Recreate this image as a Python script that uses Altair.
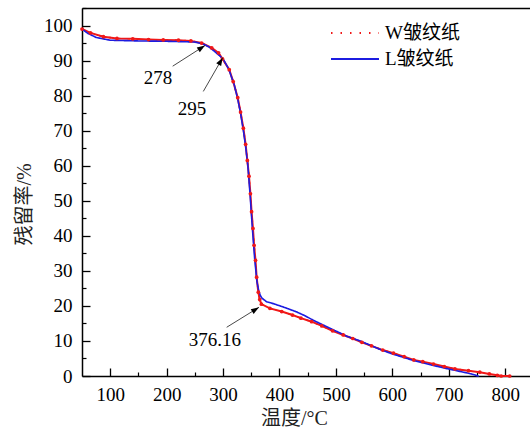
import math
import altair as alt
import pandas as pd

# ---- data ----
SERIES = ["W皱纹纸", "L皱纹纸"]

W_T = [50, 65, 88, 112, 140, 168, 194, 221, 243, 262, 280, 292, 299, 311, 318, 326,
       331, 336, 340, 343, 346, 348.5, 350.5, 353, 355, 357.5, 359.5, 362.5, 365, 368,
       383, 404, 423, 438, 457, 475, 494, 513, 530, 546, 563, 583, 602, 621, 638, 654,
       673, 692, 711, 735, 755, 772, 786, 793, 808]
W_V = [99.0, 97.9, 96.8, 96.3, 96.2, 96.0, 95.9, 95.8, 95.6, 95.0, 93.6, 92.2, 90.5,
       87.4, 84.0, 79.4, 75.3, 70.7, 66.1, 61.5, 57.0, 52.0, 46.9, 42.1, 37.3, 33.0,
       28.2, 23.9, 21.8, 20.5, 19.3, 18.4, 17.4, 16.5, 15.5, 14.3, 12.9, 11.7, 10.7,
       9.6, 8.6, 7.4, 6.5, 5.5, 4.6, 4.1, 3.4, 2.7, 2.0, 1.5, 1.1, 0.6, 0.2, 0.0, 0.0]

L_T = [50, 60, 75, 100, 150, 200, 250, 265, 275, 285, 293, 300, 310, 320, 326, 331,
       336, 340, 344, 348, 352, 356, 360, 363, 366, 369, 377, 390, 401, 415, 430, 445,
       460, 478, 495, 520, 543, 578, 600, 638, 670, 697, 720, 740, 752]
L_V = [99.0, 97.8, 96.6, 95.8, 95.6, 95.5, 95.3, 94.7, 93.9, 92.6, 91.5, 90.5, 87.6,
       83.0, 79.0, 75.0, 70.0, 65.5, 60.0, 51.5, 42.0, 33.5, 27.0, 24.5, 23.0, 22.2,
       21.2, 20.6, 20.0, 19.2, 18.3, 17.2, 15.9, 14.5, 13.2, 11.3, 10.0, 7.6, 6.3, 4.4,
       3.1, 2.1, 1.3, 0.6, 0.0]

ANN_LABEL = ["278", "295", "376.16"]
ANN_TX = [184.7, 245.0, 285.7]
ANN_TY = [85.0, 76.1, 10.4]
ARROW_X0 = [210.7, 265.0, 306.4]
ARROW_Y0 = [88.4, 81.2, 13.9]
ARROW_X1 = [268.0, 299.3, 363.7]
ARROW_Y1 = [94.3, 90.8, 19.6]

X_DOMAIN = [50, 844]
Y_DOMAIN = [0, 105]
X_MAJOR = list(range(100, 801, 100))
X_MINOR = list(range(150, 844, 100))
Y_MAJOR = list(range(0, 101, 10))
Y_MINOR = list(range(5, 106, 10))

# ---- style ----
W, H = 448, 368
RED = "#f01818"
BLUE = "#1c1ce0"
FONT_NUM = "Liberation Serif"
FONT_CJK = "Liberation Serif, Noto Sans CJK SC"
ARROW_PATH = "M0,0L0.7,2L-0.7,2Z"

df_w = pd.DataFrame({"T": W_T, "V": W_V, "s": SERIES[0]})
df_l = pd.DataFrame({"T": L_T, "V": L_V, "s": SERIES[1]})
df_all = pd.concat([df_w, df_l], ignore_index=True)

px_x = W / (X_DOMAIN[1] - X_DOMAIN[0])
px_y = H / (Y_DOMAIN[1] - Y_DOMAIN[0])
angles = []
for x0, y0, x1, y1 in zip(ARROW_X0, ARROW_Y0, ARROW_X1, ARROW_Y1):
    dx = (x1 - x0) * px_x
    dy = -(y1 - y0) * px_y
    angles.append(math.degrees(math.atan2(dx, -dy)) % 360)

df_arrow = pd.DataFrame({"x0": ARROW_X0, "y0": ARROW_Y0, "x1": ARROW_X1,
                         "y1": ARROW_Y1, "ang": angles})
df_text = pd.DataFrame({"tx": ANN_TX, "ty": ANN_TY, "label": ANN_LABEL})

xs = alt.Scale(domain=X_DOMAIN, nice=False, zero=False)
ys = alt.Scale(domain=Y_DOMAIN, nice=False, zero=False)

ax_x_main = alt.Axis(values=X_MAJOR, title="温度/°C", ticks=False, grid=False,
                     labelFont=FONT_NUM, labelFontSize=19, labelColor="black",
                     labelPadding=9, titleFont=FONT_CJK, titleFontSize=20,
                     titleFontWeight="normal", titleColor="#222", titlePadding=4,
                     titleX=212, domainColor="black", domainWidth=1.5,
                     labelFlush=False)
ax_y_main = alt.Axis(values=Y_MAJOR, title="残留率/%", ticks=False, grid=False,
                     labelFont=FONT_NUM, labelFontSize=19, labelColor="black",
                     labelPadding=10, titleFont=FONT_CJK, titleFontSize=20,
                     titleFontWeight="normal", titleColor="#222",
                     titleX=-58, titleY=196, titleAlign="center",
                     titleBaseline="middle", domainColor="black", domainWidth=1.5,
                     labelFlush=False)
ax_x_tick = alt.Axis(orient="top", offset=-H, values=X_MAJOR, labels=False,
                     domain=False, tickSize=8, tickWidth=1.3, tickColor="black",
                     title=None, grid=False)
ax_y_tick = alt.Axis(orient="right", offset=-W, values=Y_MAJOR, labels=False,
                     domain=False, tickSize=8, tickWidth=1.3, tickColor="black",
                     title=None, grid=False)
ax_x_minor = alt.Axis(orient="top", offset=-H, values=X_MINOR, labels=False,
                      domain=False, tickSize=4, tickWidth=1.2, tickColor="black",
                      title=None, grid=False)
ax_y_minor = alt.Axis(orient="right", offset=-W, values=Y_MINOR, labels=False,
                      domain=False, tickSize=4, tickWidth=1.2, tickColor="black",
                      title=None, grid=False)
ax_x_top = alt.Axis(orient="top", labels=False, ticks=False, domain=True,
                    domainColor="black", domainWidth=1.5, title=None, grid=False)

legend = alt.Legend(title=None, orient="none", legendX=248, legendY=13,
                    symbolType="stroke", symbolSize=2304, symbolStrokeWidth=2.0,
                    labelFont=FONT_CJK, labelFontSize=19, labelColor="black",
                    labelOffset=5, padding=0, rowPadding=2, clipHeight=24)

red_line = alt.Chart(df_w).mark_line(color=RED, strokeWidth=2).encode(
    x=alt.X("T:Q", scale=xs, axis=ax_x_main),
    y=alt.Y("V:Q", scale=ys, axis=ax_y_main),
)

both = alt.Chart(df_all).mark_line(strokeWidth=1.6, strokeCap="round").encode(
    x=alt.X("T:Q", scale=xs, axis=ax_x_tick),
    y=alt.Y("V:Q", scale=ys, axis=ax_y_tick),
    color=alt.Color("s:N", scale=alt.Scale(domain=SERIES, range=[RED, BLUE]),
                    legend=legend),
    strokeDash=alt.StrokeDash("s:N", scale=alt.Scale(domain=SERIES,
                              range=[[1.5, 8], [1, 0]]), legend=legend),
    order=alt.Order("T:Q"),
)

red_pts = alt.Chart(df_w).mark_circle(color=RED, size=14, opacity=1).encode(
    x=alt.X("T:Q", scale=xs, axis=ax_x_minor),
    y=alt.Y("V:Q", scale=ys, axis=ax_y_minor),
)

arrows = alt.Chart(df_arrow).mark_rule(color="#333", strokeWidth=0.9).encode(
    x=alt.X("x0:Q", scale=xs, axis=ax_x_top),
    y=alt.Y("y0:Q", scale=ys, axis=None),
    x2="x1:Q",
    y2="y1:Q",
)

heads = alt.Chart(df_arrow).mark_point(shape=ARROW_PATH, filled=True,
                                       color="black", size=64, opacity=1).encode(
    x=alt.X("x1:Q", scale=xs, axis=None),
    y=alt.Y("y1:Q", scale=ys, axis=None),
    angle=alt.Angle("ang:Q", scale=None),
)

texts = alt.Chart(df_text).mark_text(font=FONT_NUM, fontSize=19, color="black").encode(
    x=alt.X("tx:Q", scale=xs, axis=None),
    y=alt.Y("ty:Q", scale=ys, axis=None),
    text="label:N",
)

chart = alt.layer(red_line, both, red_pts, arrows, heads, texts).resolve_axis(
    x="independent", y="independent"
).properties(
    width=W, height=H,
    autosize=alt.AutoSizeParams(type="none"),
    padding={"left": 82, "top": 8, "right": 0, "bottom": 55},
    background="white",
).configure_view(stroke=None)

chart.save("out.html", embed_options={"renderer": "svg", "actions": False})
